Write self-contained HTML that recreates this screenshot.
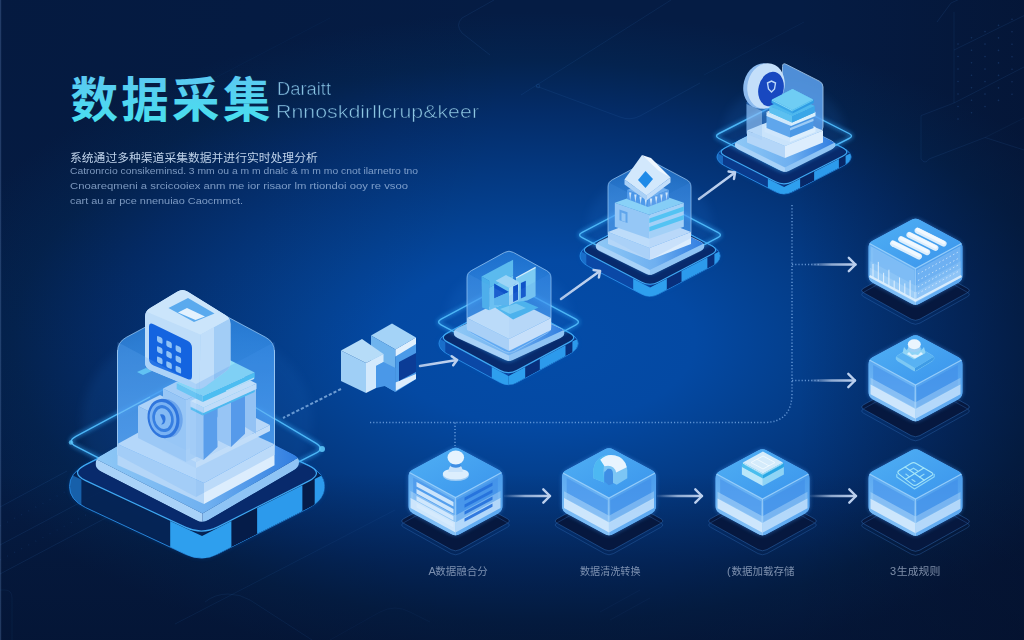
<!DOCTYPE html>
<html><head><meta charset="utf-8"><title>数据采集</title>
<style>html,body{margin:0;padding:0;background:#051C44;overflow:hidden;font-family:"Liberation Sans",sans-serif}svg{display:block}</style>
</head><body><svg width="1024" height="640" viewBox="0 0 1024 640" font-family="Liberation Sans, sans-serif"><defs>
<radialGradient id="bg1" cx="540" cy="342" r="620" gradientUnits="userSpaceOnUse" gradientTransform="translate(540 342) scale(1 0.532) translate(-540 -342)">
<stop offset="0" stop-color="#044CA8"/><stop offset="0.25" stop-color="#0449A3"/><stop offset="0.4" stop-color="#04408F"/><stop offset="0.55" stop-color="#04367C"/><stop offset="0.7" stop-color="#042C68"/><stop offset="0.85" stop-color="#04234F"/><stop offset="1" stop-color="#051C44"/>
</radialGradient>
<linearGradient id="bgB" x1="0" y1="0" x2="0" y2="1"><stop offset="0.74" stop-color="#040E26" stop-opacity="0"/><stop offset="0.88" stop-color="#040E26" stop-opacity="0.3"/><stop offset="1" stop-color="#040E26" stop-opacity="0.45"/></linearGradient>
<radialGradient id="bgTL" cx="0" cy="0" r="520" gradientUnits="userSpaceOnUse"><stop offset="0" stop-color="#050F2A" stop-opacity="0.15"/><stop offset="1" stop-color="#050F2A" stop-opacity="0"/></radialGradient>
<linearGradient id="bgR" x1="0" y1="0" x2="1" y2="0"><stop offset="0.78" stop-color="#040E26" stop-opacity="0"/><stop offset="1" stop-color="#040E26" stop-opacity="0.4"/></linearGradient>
<linearGradient id="ttl" x1="0" y1="0" x2="0" y2="1"><stop offset="0" stop-color="#5CC8F2"/><stop offset="1" stop-color="#46E2EE"/></linearGradient>
<linearGradient id="gTop" x1="0" y1="0" x2="1" y2="1"><stop offset="0" stop-color="#50B0F4"/><stop offset="1" stop-color="#3A94EC"/></linearGradient>
<linearGradient id="gL" x1="0" y1="0" x2="0" y2="1"><stop offset="0" stop-color="#5CAAF1"/><stop offset="1" stop-color="#86C2F7"/></linearGradient>
<linearGradient id="gR" x1="0" y1="0" x2="0" y2="1"><stop offset="0" stop-color="#4A9CEC"/><stop offset="1" stop-color="#68B0F3"/></linearGradient>
<linearGradient id="gPT" x1="0" y1="0" x2="1" y2="0"><stop offset="0" stop-color="#8EC8F6"/><stop offset="0.55" stop-color="#6FB0F0"/><stop offset="1" stop-color="#2F7CE0"/></linearGradient>
<filter id="glow" x="-20%" y="-20%" width="140%" height="140%"><feGaussianBlur stdDeviation="2.2"/></filter>
<filter id="glow4" x="-30%" y="-30%" width="160%" height="160%"><feGaussianBlur stdDeviation="5"/></filter>
<filter id="b1"><feGaussianBlur stdDeviation="0.6"/></filter>
<linearGradient id="gg649" x1="0" y1="0" x2="0" y2="1"><stop offset="0" stop-color="#3090F0" stop-opacity="0.56"/><stop offset="1" stop-color="#5AA6F4" stop-opacity="0.74"/></linearGradient><linearGradient id="gg509" x1="0" y1="0" x2="0" y2="1"><stop offset="0" stop-color="#3090F0" stop-opacity="0.56"/><stop offset="1" stop-color="#5AA6F4" stop-opacity="0.74"/></linearGradient><linearGradient id="gg196" x1="0" y1="0" x2="0" y2="1"><stop offset="0" stop-color="#3090F0" stop-opacity="0.70"/><stop offset="1" stop-color="#5AA6F4" stop-opacity="0.94"/></linearGradient><linearGradient id="ar812_264" gradientUnits="userSpaceOnUse" x1="812" y1="264.5" x2="855.5" y2="264.5"><stop offset="0" stop-color="#BCD0EE" stop-opacity="0.1"/><stop offset="0.45" stop-color="#BCD0EE" stop-opacity="0.75"/><stop offset="1" stop-color="#BCD0EE"/></linearGradient><linearGradient id="ar812_380" gradientUnits="userSpaceOnUse" x1="812" y1="380.5" x2="855" y2="380.5"><stop offset="0" stop-color="#BCD0EE" stop-opacity="0.1"/><stop offset="0.45" stop-color="#BCD0EE" stop-opacity="0.75"/><stop offset="1" stop-color="#BCD0EE"/></linearGradient><linearGradient id="ar505_496" gradientUnits="userSpaceOnUse" x1="505" y1="496" x2="550" y2="496"><stop offset="0" stop-color="#BCD0EE" stop-opacity="0.1"/><stop offset="0.45" stop-color="#BCD0EE" stop-opacity="0.75"/><stop offset="1" stop-color="#BCD0EE"/></linearGradient><linearGradient id="ar658_496" gradientUnits="userSpaceOnUse" x1="658" y1="496" x2="702" y2="496"><stop offset="0" stop-color="#BCD0EE" stop-opacity="0.1"/><stop offset="0.45" stop-color="#BCD0EE" stop-opacity="0.75"/><stop offset="1" stop-color="#BCD0EE"/></linearGradient><linearGradient id="ar811_496" gradientUnits="userSpaceOnUse" x1="811" y1="496" x2="856" y2="496"><stop offset="0" stop-color="#BCD0EE" stop-opacity="0.1"/><stop offset="0.45" stop-color="#BCD0EE" stop-opacity="0.75"/><stop offset="1" stop-color="#BCD0EE"/></linearGradient><linearGradient id="ar420_366" gradientUnits="userSpaceOnUse" x1="420" y1="366" x2="457" y2="360"><stop offset="0" stop-color="#BCD0EE" stop-opacity="0.9"/><stop offset="0.45" stop-color="#BCD0EE" stop-opacity="1"/><stop offset="1" stop-color="#BCD0EE"/></linearGradient><linearGradient id="ar561_299" gradientUnits="userSpaceOnUse" x1="561" y1="299" x2="600" y2="271"><stop offset="0" stop-color="#BCD0EE" stop-opacity="0.9"/><stop offset="0.45" stop-color="#BCD0EE" stop-opacity="1"/><stop offset="1" stop-color="#BCD0EE"/></linearGradient><linearGradient id="ar699_199" gradientUnits="userSpaceOnUse" x1="699" y1="199" x2="735" y2="172.5"><stop offset="0" stop-color="#BCD0EE" stop-opacity="0.9"/><stop offset="0.45" stop-color="#BCD0EE" stop-opacity="1"/><stop offset="1" stop-color="#BCD0EE"/></linearGradient></defs><rect width="1024" height="640" fill="#051C44"/>
<rect width="1024" height="640" fill="url(#bg1)"/>
<rect width="1024" height="640" fill="url(#bgR)"/>
<rect width="1024" height="640" fill="url(#bgB)"/>
<rect width="1024" height="640" fill="url(#bgTL)"/>
<path d="M494,0 L462,18 Q455,25 462,33 L490,55" fill="none" stroke="#3C7DD0" stroke-opacity="0.16" stroke-width="0.8" />
<path d="M671,0 L521,95 M536,86 L620,117 Q630,121 640,116 L700,83" fill="none" stroke="#3C7DD0" stroke-opacity="0.15" stroke-width="0.8" />
<circle cx="538" cy="86" r="1.8" fill="none" stroke="#3C7DD0" stroke-opacity="0.2" stroke-width="0.8"/>
<path d="M704,75 L804,22" fill="none" stroke="#3C7DD0" stroke-opacity="0.1" stroke-width="0.8" />
<path d="M215,78 L330,18" fill="none" stroke="#3C7DD0" stroke-opacity="0.07" stroke-width="0.8" />
<path d="M954,50 L1024,15.6 M954,103 L1024,67 M937,22 L951,3 L1024,-30" fill="none" stroke="#3C7DD0" stroke-opacity="0.16" stroke-width="0.8" />
<path d="M954,12 L954,103 L921,115.6 L921,159 Q925,165 929,159 L985,137.5 L1024,150" fill="none" stroke="#3C7DD0" stroke-opacity="0.14" stroke-width="0.8" />
<path d="M985,137.5 L1024,118" fill="none" stroke="#3C7DD0" stroke-opacity="0.1" stroke-width="0.8" />
<circle cx="958.0" cy="44.0" r="0.8" fill="#4A8AE0" opacity="0.22"/>
<circle cx="971.5" cy="37.8" r="0.8" fill="#4A8AE0" opacity="0.22"/>
<circle cx="985.0" cy="31.6" r="0.8" fill="#4A8AE0" opacity="0.22"/>
<circle cx="998.5" cy="25.4" r="0.8" fill="#4A8AE0" opacity="0.22"/>
<circle cx="1012.0" cy="19.2" r="0.8" fill="#4A8AE0" opacity="0.22"/>
<circle cx="958.0" cy="56.5" r="0.8" fill="#4A8AE0" opacity="0.22"/>
<circle cx="971.5" cy="50.3" r="0.8" fill="#4A8AE0" opacity="0.22"/>
<circle cx="985.0" cy="44.1" r="0.8" fill="#4A8AE0" opacity="0.22"/>
<circle cx="998.5" cy="37.9" r="0.8" fill="#4A8AE0" opacity="0.22"/>
<circle cx="1012.0" cy="31.7" r="0.8" fill="#4A8AE0" opacity="0.22"/>
<circle cx="958.0" cy="69.0" r="0.8" fill="#4A8AE0" opacity="0.22"/>
<circle cx="971.5" cy="62.8" r="0.8" fill="#4A8AE0" opacity="0.22"/>
<circle cx="985.0" cy="56.6" r="0.8" fill="#4A8AE0" opacity="0.22"/>
<circle cx="998.5" cy="50.4" r="0.8" fill="#4A8AE0" opacity="0.22"/>
<circle cx="1012.0" cy="44.2" r="0.8" fill="#4A8AE0" opacity="0.22"/>
<circle cx="958.0" cy="81.5" r="0.8" fill="#4A8AE0" opacity="0.22"/>
<circle cx="971.5" cy="75.3" r="0.8" fill="#4A8AE0" opacity="0.22"/>
<circle cx="985.0" cy="69.1" r="0.8" fill="#4A8AE0" opacity="0.22"/>
<circle cx="998.5" cy="62.9" r="0.8" fill="#4A8AE0" opacity="0.22"/>
<circle cx="1012.0" cy="56.7" r="0.8" fill="#4A8AE0" opacity="0.22"/>
<circle cx="958.0" cy="94.0" r="0.8" fill="#4A8AE0" opacity="0.22"/>
<circle cx="971.5" cy="87.8" r="0.8" fill="#4A8AE0" opacity="0.22"/>
<circle cx="985.0" cy="81.6" r="0.8" fill="#4A8AE0" opacity="0.22"/>
<circle cx="998.5" cy="75.4" r="0.8" fill="#4A8AE0" opacity="0.22"/>
<circle cx="1012.0" cy="69.2" r="0.8" fill="#4A8AE0" opacity="0.22"/>
<circle cx="958.0" cy="106.5" r="0.8" fill="#4A8AE0" opacity="0.22"/>
<circle cx="971.5" cy="100.3" r="0.8" fill="#4A8AE0" opacity="0.22"/>
<circle cx="985.0" cy="94.1" r="0.8" fill="#4A8AE0" opacity="0.22"/>
<circle cx="998.5" cy="87.9" r="0.8" fill="#4A8AE0" opacity="0.22"/>
<circle cx="1012.0" cy="81.7" r="0.8" fill="#4A8AE0" opacity="0.22"/>
<circle cx="958.0" cy="119.0" r="0.8" fill="#4A8AE0" opacity="0.22"/>
<circle cx="971.5" cy="112.8" r="0.8" fill="#4A8AE0" opacity="0.22"/>
<circle cx="985.0" cy="106.6" r="0.8" fill="#4A8AE0" opacity="0.22"/>
<circle cx="998.5" cy="100.4" r="0.8" fill="#4A8AE0" opacity="0.22"/>
<circle cx="1012.0" cy="94.2" r="0.8" fill="#4A8AE0" opacity="0.22"/>
<path d="M0,507 L67,471 M0,545 L100,492 M0,574 L134,503" fill="none" stroke="#3C7DD0" stroke-opacity="0.16" stroke-width="0.8" />
<path d="M0,526 L95,476 M0,560 L118,498" fill="none" stroke="#3C7DD0" stroke-opacity="0.13" stroke-width="1.3" stroke-dasharray="1 7"/>
<path d="M175,624 L320,549" fill="none" stroke="#3C7DD0" stroke-opacity="0.13" stroke-width="0.8" />
<path d="M205,602 Q215,594 228,594 Q240,594 250,600 L312,640" fill="none" stroke="#3C7DD0" stroke-opacity="0.13" stroke-width="0.8" />
<path d="M320,549 L395,510" fill="none" stroke="#3C7DD0" stroke-opacity="0.1" stroke-width="0.8" />
<path d="M330,640 L380,612 Q395,604 410,612 L430,622" fill="none" stroke="#3C7DD0" stroke-opacity="0.08" stroke-width="0.8" />
<path d="M0,590 L5,590 Q12,590 12,598 L12,640" fill="none" stroke="#3C7DD0" stroke-opacity="0.1" stroke-width="0.8" />
<path d="M600,612 L640,590 M610,620 L650,598" fill="none" stroke="#3C7DD0" stroke-opacity="0.08" stroke-width="0.8" />
<rect x="0" y="0" width="1.2" height="640" fill="#5A7CB0" opacity="0.35"/>
<g fill="none" stroke="#86B6F0" stroke-width="1.5" stroke-dasharray="1.2 2" opacity="0.7">
<path d="M792,205 L792,393 Q792,422.5 764,422.5 L368,422.5"/>
<path d="M455,422.5 L455,446"/>
<path d="M792,264.5 L820,264.5 M792,380.5 L820,380.5"/>
</g>
<path d="M341,389 L283,418" fill="none" stroke="#9CC4F0" stroke-width="2" stroke-dasharray="3.2 2" opacity="0.7"/>
<ellipse cx="784" cy="130" rx="60" ry="45" fill="#2F86EA" opacity="0.105" filter="url(#glow4)"/>
<path d="M717.0,157.0Q717.0,152.0 725.4,147.8L775.6,122.2Q784.0,118.0 792.4,122.2L842.6,147.8Q851.0,152.0 851.0,157.0L851.0,157.0Q851.0,162.0 842.6,166.2L792.4,191.8Q784.0,196.0 775.6,191.8L725.4,166.2Q717.0,162.0 717.0,157.0Z" fill="#1060C8" filter="url(#glow)" opacity="0.35"/>
<path d="M717.0,157.0Q717.0,152.0 725.4,147.8L775.6,122.2Q784.0,118.0 792.4,122.2L842.6,147.8Q851.0,152.0 851.0,157.0L851.0,157.0Q851.0,162.0 842.6,166.2L792.4,191.8Q784.0,196.0 775.6,191.8L725.4,166.2Q717.0,162.0 717.0,157.0Z" fill="#0A3A8C" fill-opacity="0.85" stroke="#2B8FE6" stroke-width="0.9"/>
<clipPath id="pc784"><path d="M717.0,157.0Q717.0,152.0 725.4,147.8L775.6,122.2Q784.0,118.0 792.4,122.2L842.6,147.8Q851.0,152.0 851.0,157.0L851.0,157.0Q851.0,162.0 842.6,166.2L792.4,191.8Q784.0,196.0 775.6,191.8L725.4,166.2Q717.0,162.0 717.0,157.0Z"/></clipPath><g clip-path="url(#pc784)">
<polygon points="784.0,186.0 851.0,152.0 851.0,162.0 784.0,196.0" fill="#072560" opacity="0.85"/>
<polygon points="717.0,153.0 723.0,156.1 723.0,165.1 717.0,162.0" fill="#2388E2" opacity="0.6"/>
<polygon points="767.9,178.8 784.0,187.0 784.0,196.0 767.9,187.8" fill="#2E9FEE" opacity="1"/>
<polygon points="784.0,187.0 800.1,178.8 800.1,187.8 784.0,196.0" fill="#2E9FEE" opacity="1"/>
<polygon points="814.1,171.7 838.9,159.1 838.9,168.1 814.1,180.7" fill="#2C9AEC" opacity="1"/>
<polygon points="845.6,155.7 851.0,153.0 851.0,162.0 845.6,164.7" fill="#2C9AEC" opacity="1"/>
</g>
<path d="M775.6,122.2Q784.0,118.0 792.4,122.2L842.6,147.8Q851.0,152.0 842.6,156.2L792.4,181.8Q784.0,186.0 775.6,181.8L725.4,156.2Q717.0,152.0 725.4,147.8Z" fill="#082A6C" stroke="#3FA8F2" stroke-width="1.2"/>
<path d="M779.0,103.0Q784.0,100.5 789.0,103.0L849.0,133.5Q854.0,136.0 849.0,138.5L789.0,169.0Q784.0,171.5 779.0,169.0L719.0,138.5Q714.0,136.0 719.0,133.5Z" fill="none" stroke="#2FA0F2" stroke-width="3" filter="url(#glow)" opacity="0.7"/>
<path d="M779.0,103.0Q784.0,100.5 789.0,103.0L849.0,133.5Q854.0,136.0 849.0,138.5L789.0,169.0Q784.0,171.5 779.0,169.0L719.0,138.5Q714.0,136.0 719.0,133.5Z" fill="none" stroke="#4DB6F6" stroke-width="1.4"/>
<g opacity="1" >
<path d="M781.4,119.3Q785.0,117.5 788.6,119.3L831.4,140.7Q835.0,142.5 835.0,145.0L835.0,145.0Q835.0,147.5 831.4,149.3L788.6,170.7Q785.0,172.5 781.4,170.7L738.6,149.3Q735.0,147.5 735.0,145.0L735.0,145.0Q735.0,142.5 738.6,140.7Z" fill="#A9D2F8" stroke="#A9D2F8" stroke-width="0.5"/>
<clipPath id="ib7850_1425"><path d="M781.4,119.3Q785.0,117.5 788.6,119.3L831.4,140.7Q835.0,142.5 835.0,145.0L835.0,145.0Q835.0,147.5 831.4,149.3L788.6,170.7Q785.0,172.5 781.4,170.7L738.6,149.3Q735.0,147.5 735.0,145.0L735.0,145.0Q735.0,142.5 738.6,140.7Z"/></clipPath><g clip-path="url(#ib7850_1425)">
<polygon points="735.0,142.5 785.0,167.5 785.0,172.5 735.0,147.5" fill="#A9D2F8" />
<polygon points="785.0,167.5 835.0,142.5 835.0,147.5 785.0,172.5" fill="#8FC4F5" />
<polygon points="785.0,117.5 835.0,142.5 785.0,167.5 735.0,142.5" fill="url(#gPT)" />
</g>
</g>
<path d="M782.5,66.5Q782.5,62.5 786.1,64.3L819.4,81.2Q823.0,83.0 823.0,87.0L823.0,127.0Q823.0,131.0 819.3,132.5L788.7,144.5Q785.0,146.0 784.5,142.0L783.0,129.0Q782.5,125.0 782.5,121.0Z" fill="#5CA2F0" opacity="0.85" stroke="#B5DAFC" stroke-width="0.9"/>
<polygon points="746.5,102.0 782.5,84.0 782.5,128.0 746.5,133.0" fill="#4494EE" opacity="0.5"/>
<g opacity="1" >
<polygon points="747.0,130.5 785.0,146.0 785.0,158.0 747.0,142.5" fill="#B4D6F8" />
<polygon points="785.0,146.0 823.0,130.5 823.0,142.5 785.0,158.0" fill="#DCEDFD" />
<polygon points="785.0,115.0 823.0,130.5 785.0,146.0 747.0,130.5" fill="#C9E3FB" />
</g>
<g opacity="1" >
<polygon points="764.5,127.0 790.0,137.0 790.0,142.0 764.5,132.0" fill="#CFE6FC" />
<polygon points="790.0,137.0 815.5,127.0 815.5,132.0 790.0,142.0" fill="#DCEEFD" />
<polygon points="790.0,117.0 815.5,127.0 790.0,137.0 764.5,127.0" fill="#E2F1FD" />
</g>
<g opacity="1" >
<polygon points="766.5,115.0 790.0,124.5 790.0,137.5 766.5,128.0" fill="#5FA6EC" />
<polygon points="790.0,124.5 813.5,115.0 813.5,128.0 790.0,137.5" fill="#4A98E6" />
<polygon points="790.0,105.5 813.5,115.0 790.0,124.5 766.5,115.0" fill="#BFE0FA" />
</g>
<polygon points="790.0,128.0 813.5,118.5 813.5,121.0 790.0,130.5" fill="#9CCBF5" />
<g opacity="1" >
<polygon points="766.5,112.0 791.0,122.0 791.0,126.0 766.5,116.0" fill="#CFE8FB" />
<polygon points="791.0,122.0 815.5,112.0 815.5,116.0 791.0,126.0" fill="#D8EEFC" />
<polygon points="791.0,102.0 815.5,112.0 791.0,122.0 766.5,112.0" fill="#E6F3FE" />
</g>
<g opacity="1" >
<polygon points="769.5,106.0 792.0,116.0 792.0,122.5 769.5,112.5" fill="#5CC0F0" />
<polygon points="792.0,116.0 814.5,106.0 814.5,112.5 792.0,122.5" fill="#3AA6E8" />
<polygon points="792.0,96.0 814.5,106.0 792.0,116.0 769.5,106.0" fill="#4DB8EE" />
</g>
<g opacity="1" >
<polygon points="771.5,100.0 792.5,110.5 792.5,113.5 771.5,103.0" fill="#3AA6E8" />
<polygon points="792.5,110.5 813.5,100.0 813.5,103.0 792.5,113.5" fill="#2E9CE4" />
<polygon points="792.5,89.5 813.5,100.0 792.5,110.5 771.5,100.0" fill="#2E9CE4" />
</g>
<g opacity="1" >
<polygon points="772.0,99.5 792.5,110.0 792.5,111.2 772.0,100.7" fill="#7FD4F6" />
<polygon points="792.5,110.0 813.0,99.5 813.0,100.7 792.5,111.2" fill="#5FC6F2" />
<polygon points="792.5,89.0 813.0,99.5 792.5,110.0 772.0,99.5" fill="#6FCDF4" />
</g>
<ellipse cx="762" cy="86" rx="18.5" ry="23" fill="#8DBBEF" transform="rotate(14 762 86)"/>
<ellipse cx="766" cy="86" rx="18.5" ry="23" fill="#C4DFFA" transform="rotate(14 766 86)"/>
<ellipse cx="771" cy="89" rx="12.5" ry="17.5" fill="#1848C0" transform="rotate(14 771 89)"/>
<path d="M767.5,83 l4,-2 l4,2 l-1,6 l-3,3 l-3,-3 z" fill="none" stroke="#BBD8FA" stroke-width="1.4"/>
<polygon points="746.5,104.0 762.0,111.0 762.0,140.0 746.5,134.0" fill="#A8D0F8" opacity="0.5"/>
<g opacity="1" >
<polygon points="769.5,106.0 792.0,116.0 792.0,122.5 769.5,112.5" fill="#5CC0F0" />
<polygon points="792.0,116.0 814.5,106.0 814.5,112.5 792.0,122.5" fill="#3AA6E8" />
<polygon points="792.0,96.0 814.5,106.0 792.0,116.0 769.5,106.0" fill="#4DB8EE" />
</g>
<g opacity="1" >
<polygon points="771.5,100.0 792.5,110.5 792.5,113.5 771.5,103.0" fill="#3AA6E8" />
<polygon points="792.5,110.5 813.5,100.0 813.5,103.0 792.5,113.5" fill="#2E9CE4" />
<polygon points="792.5,89.5 813.5,100.0 792.5,110.5 771.5,100.0" fill="#2E9CE4" />
</g>
<g opacity="1" >
<polygon points="772.0,99.5 792.5,110.0 792.5,111.2 772.0,100.7" fill="#7FD4F6" />
<polygon points="792.5,110.0 813.0,99.5 813.0,100.7 792.5,111.2" fill="#5FC6F2" />
<polygon points="792.5,89.0 813.0,99.5 792.5,110.0 772.0,99.5" fill="#6FCDF4" />
</g>
<ellipse cx="650" cy="225" rx="62" ry="50" fill="#2F86EA" opacity="0.105" filter="url(#glow4)"/>
<path d="M580.0,256.0Q580.0,250.0 588.7,245.5L641.3,218.0Q650.0,213.5 658.7,218.0L711.3,245.5Q720.0,250.0 720.0,256.0L720.0,256.0Q720.0,262.0 711.3,266.5L658.7,294.0Q650.0,298.5 641.3,294.0L588.7,266.5Q580.0,262.0 580.0,256.0Z" fill="#1060C8" filter="url(#glow)" opacity="0.35"/>
<path d="M580.0,256.0Q580.0,250.0 588.7,245.5L641.3,218.0Q650.0,213.5 658.7,218.0L711.3,245.5Q720.0,250.0 720.0,256.0L720.0,256.0Q720.0,262.0 711.3,266.5L658.7,294.0Q650.0,298.5 641.3,294.0L588.7,266.5Q580.0,262.0 580.0,256.0Z" fill="#0C46A4" fill-opacity="0.85" stroke="#2B8FE6" stroke-width="0.9"/>
<clipPath id="pc650"><path d="M580.0,256.0Q580.0,250.0 588.7,245.5L641.3,218.0Q650.0,213.5 658.7,218.0L711.3,245.5Q720.0,250.0 720.0,256.0L720.0,256.0Q720.0,262.0 711.3,266.5L658.7,294.0Q650.0,298.5 641.3,294.0L588.7,266.5Q580.0,262.0 580.0,256.0Z"/></clipPath><g clip-path="url(#pc650)">
<polygon points="650.0,286.5 720.0,250.0 720.0,262.0 650.0,298.5" fill="#082C74" opacity="0.85"/>
<polygon points="580.0,251.0 586.3,254.3 586.3,265.3 580.0,262.0" fill="#2388E2" opacity="0.6"/>
<polygon points="633.2,278.7 650.0,287.5 650.0,298.5 633.2,289.7" fill="#2E9FEE" opacity="1"/>
<polygon points="650.0,287.5 666.8,278.7 666.8,289.7 650.0,298.5" fill="#2E9FEE" opacity="1"/>
<polygon points="681.5,271.1 707.4,257.6 707.4,268.6 681.5,282.1" fill="#2C9AEC" opacity="1"/>
<polygon points="714.4,253.9 720.0,251.0 720.0,262.0 714.4,264.9" fill="#2C9AEC" opacity="1"/>
</g>
<path d="M641.3,218.0Q650.0,213.5 658.7,218.0L711.3,245.5Q720.0,250.0 711.3,254.5L658.7,282.0Q650.0,286.5 641.3,282.0L588.7,254.5Q580.0,250.0 588.7,245.5Z" fill="#082A6C" stroke="#3FA8F2" stroke-width="1.2"/>
<path d="M644.8,199.7Q650.0,197.0 655.2,199.7L717.8,232.3Q723.0,235.0 717.8,237.7L655.2,270.3Q650.0,273.0 644.8,270.3L582.2,237.7Q577.0,235.0 582.2,232.3Z" fill="none" stroke="#2FA0F2" stroke-width="3" filter="url(#glow)" opacity="0.7"/>
<path d="M644.8,199.7Q650.0,197.0 655.2,199.7L717.8,232.3Q723.0,235.0 717.8,237.7L655.2,270.3Q650.0,273.0 644.8,270.3L582.2,237.7Q577.0,235.0 582.2,232.3Z" fill="none" stroke="#4DB6F6" stroke-width="1.4"/>
<g opacity="1" >
<path d="M646.4,218.8Q650.0,217.0 653.6,218.8L700.4,241.7Q704.0,243.5 704.0,246.2L704.0,246.2Q704.0,249.0 700.4,250.8L653.6,273.7Q650.0,275.5 646.4,273.7L599.6,250.8Q596.0,249.0 596.0,246.2L596.0,246.2Q596.0,243.5 599.6,241.7Z" fill="#A9D2F8" stroke="#A9D2F8" stroke-width="0.5"/>
<clipPath id="ib6500_2435"><path d="M646.4,218.8Q650.0,217.0 653.6,218.8L700.4,241.7Q704.0,243.5 704.0,246.2L704.0,246.2Q704.0,249.0 700.4,250.8L653.6,273.7Q650.0,275.5 646.4,273.7L599.6,250.8Q596.0,249.0 596.0,246.2L596.0,246.2Q596.0,243.5 599.6,241.7Z"/></clipPath><g clip-path="url(#ib6500_2435)">
<polygon points="596.0,243.5 650.0,270.0 650.0,275.5 596.0,249.0" fill="#A9D2F8" />
<polygon points="650.0,270.0 704.0,243.5 704.0,249.0 650.0,275.5" fill="#8FC4F5" />
<polygon points="650.0,217.0 704.0,243.5 650.0,270.0 596.0,243.5" fill="url(#gPT)" />
</g>
</g>
<path d="M608.0,187.0Q608.0,182.0 612.4,179.7L645.1,162.3Q649.5,160.0 653.9,162.3L686.6,179.7Q691.0,182.0 691.0,187.0L691.0,233.0Q691.0,238.0 686.6,240.3L653.9,257.7Q649.5,260.0 645.1,257.7L612.4,240.3Q608.0,238.0 608.0,233.0Z" fill="url(#gg649)" />
<path d="M608.0,187.0Q608.0,182.0 612.4,179.7L645.1,162.3Q649.5,160.0 653.9,162.3L686.6,179.7Q691.0,182.0 691.0,187.0L691.0,233.0Q691.0,238.0 686.6,240.3L653.9,257.7Q649.5,260.0 645.1,257.7L612.4,240.3Q608.0,238.0 608.0,233.0Z" fill="none" stroke="#A9D4FB" stroke-width="0.9" opacity="0.75"/>
<g opacity="1" >
<polygon points="608.0,232.0 649.5,248.0 649.5,260.0 608.0,244.0" fill="#B4D6F8" />
<polygon points="649.5,248.0 691.0,232.0 691.0,244.0 649.5,260.0" fill="#DCEDFD" />
<polygon points="649.5,216.0 691.0,232.0 649.5,248.0 608.0,232.0" fill="#C9E3FB" />
</g>
<g opacity="1" >
<polygon points="614.8,202.7 649.3,214.7 649.3,238.7 614.8,226.7" fill="#9CCBF6" />
<polygon points="649.3,214.7 683.8,202.7 683.8,226.7 649.3,238.7" fill="#B0DAF9" />
<polygon points="649.3,190.7 683.8,202.7 649.3,214.7 614.8,202.7" fill="#8ED6F7" />
</g>
<polygon points="649.3,218.5 683.8,206.5 683.8,211.0 649.3,223.0" fill="#55CBF4" />
<polygon points="649.3,227.0 683.8,215.0 683.8,219.5 649.3,231.5" fill="#55CBF4" />
<polygon points="619.5,209.5 627.5,212.3 627.5,223.0 619.5,220.2" fill="#5FA4EA" />
<polygon points="621.5,212.5 625.5,214.0 625.5,222.0 621.5,220.5" fill="#9CCBF6" />
<g opacity="1" >
<polygon points="627.0,190.0 648.0,198.0 648.0,207.0 627.0,199.0" fill="#4A96E8" />
<polygon points="648.0,198.0 669.0,190.0 669.0,199.0 648.0,207.0" fill="#5A9EEA" />
<polygon points="648.0,182.0 669.0,190.0 648.0,198.0 627.0,190.0" fill="#6FAEF0" />
</g>
<path d="M629.0,192.5 l1.2,8 l1.2,-8z" fill="#CFE6FB"/>
<path d="M634.2,194.5 l1.2,8 l1.2,-8z" fill="#CFE6FB"/>
<path d="M639.4,196.5 l1.2,8 l1.2,-8z" fill="#CFE6FB"/>
<path d="M644.6,198.5 l1.2,8 l1.2,-8z" fill="#CFE6FB"/>
<path d="M649.8,198.5 l1.2,8 l1.2,-8z" fill="#CFE6FB"/>
<path d="M655.0,196.5 l1.2,8 l1.2,-8z" fill="#CFE6FB"/>
<path d="M660.2,194.5 l1.2,8 l1.2,-8z" fill="#CFE6FB"/>
<path d="M665.4,192.5 l1.2,8 l1.2,-8z" fill="#CFE6FB"/>
<polygon points="642.0,155.0 624.5,179.5 646.5,195.5 670.5,177.5" fill="#D2E8FC" />
<polygon points="624.5,179.5 646.5,195.5 646.5,200.5 624.5,184.5" fill="#A9D0F6" />
<polygon points="646.5,195.5 670.5,177.5 670.5,182.5 646.5,200.5" fill="#C2DEFA" />
<polygon points="642.0,155.0 651.0,158.0 670.5,177.5 659.0,171.0" fill="#EEF7FF" />
<polygon points="645.5,171.0 653.0,179.0 645.5,188.0 638.0,180.0" fill="#1E8AE8" />
<polygon points="608.0,182.0 649.5,204.0 649.5,260.0 608.0,238.0" fill="#6AAEF4" opacity="0.13"/>
<polygon points="649.5,204.0 691.0,182.0 691.0,238.0 649.5,260.0" fill="#4A94EC" opacity="0.13"/>
<ellipse cx="509" cy="315" rx="62" ry="48" fill="#2F86EA" opacity="0.105" filter="url(#glow4)"/>
<path d="M439.0,343.5Q439.0,337.5 447.6,332.9L499.9,304.6Q508.5,300.0 517.1,304.6L569.4,332.9Q578.0,337.5 578.0,343.5L578.0,343.5Q578.0,349.5 569.4,354.1L517.1,382.4Q508.5,387.0 499.9,382.4L447.6,354.1Q439.0,349.5 439.0,343.5Z" fill="#1060C8" filter="url(#glow)" opacity="0.35"/>
<path d="M439.0,343.5Q439.0,337.5 447.6,332.9L499.9,304.6Q508.5,300.0 517.1,304.6L569.4,332.9Q578.0,337.5 578.0,343.5L578.0,343.5Q578.0,349.5 569.4,354.1L517.1,382.4Q508.5,387.0 499.9,382.4L447.6,354.1Q439.0,349.5 439.0,343.5Z" fill="#0C46A4" fill-opacity="0.85" stroke="#2B8FE6" stroke-width="0.9"/>
<clipPath id="pc508"><path d="M439.0,343.5Q439.0,337.5 447.6,332.9L499.9,304.6Q508.5,300.0 517.1,304.6L569.4,332.9Q578.0,337.5 578.0,343.5L578.0,343.5Q578.0,349.5 569.4,354.1L517.1,382.4Q508.5,387.0 499.9,382.4L447.6,354.1Q439.0,349.5 439.0,343.5Z"/></clipPath><g clip-path="url(#pc508)">
<polygon points="508.5,375.0 578.0,337.5 578.0,349.5 508.5,387.0" fill="#082C74" opacity="0.85"/>
<polygon points="439.0,338.5 445.3,341.9 445.3,352.9 439.0,349.5" fill="#2388E2" opacity="0.6"/>
<polygon points="491.8,367.0 508.5,376.0 508.5,387.0 491.8,378.0" fill="#2E9FEE" opacity="1"/>
<polygon points="508.5,376.0 525.2,367.0 525.2,378.0 508.5,387.0" fill="#2E9FEE" opacity="1"/>
<polygon points="539.8,359.1 565.5,345.2 565.5,356.2 539.8,370.1" fill="#2C9AEC" opacity="1"/>
<polygon points="572.4,341.5 578.0,338.5 578.0,349.5 572.4,352.5" fill="#2C9AEC" opacity="1"/>
</g>
<path d="M499.9,304.6Q508.5,300.0 517.1,304.6L569.4,332.9Q578.0,337.5 569.4,342.1L517.1,370.4Q508.5,375.0 499.9,370.4L447.6,342.1Q439.0,337.5 447.6,332.9Z" fill="#082A6C" stroke="#3FA8F2" stroke-width="1.2"/>
<path d="M503.4,285.8Q508.5,283.0 513.6,285.8L575.9,319.2Q581.0,322.0 575.9,324.8L513.6,358.2Q508.5,361.0 503.4,358.2L441.1,324.8Q436.0,322.0 441.1,319.2Z" fill="none" stroke="#2FA0F2" stroke-width="3" filter="url(#glow)" opacity="0.7"/>
<path d="M503.4,285.8Q508.5,283.0 513.6,285.8L575.9,319.2Q581.0,322.0 575.9,324.8L513.6,358.2Q508.5,361.0 503.4,358.2L441.1,324.8Q436.0,322.0 441.1,319.2Z" fill="none" stroke="#4DB6F6" stroke-width="1.4"/>
<g opacity="1" >
<path d="M505.4,306.2Q509.0,304.5 512.6,306.2L560.4,328.3Q564.0,330.0 564.0,333.0L564.0,333.0Q564.0,336.0 560.4,337.7L512.6,359.8Q509.0,361.5 505.4,359.8L457.6,337.7Q454.0,336.0 454.0,333.0L454.0,333.0Q454.0,330.0 457.6,328.3Z" fill="#A9D2F8" stroke="#A9D2F8" stroke-width="0.5"/>
<clipPath id="ib5090_3300"><path d="M505.4,306.2Q509.0,304.5 512.6,306.2L560.4,328.3Q564.0,330.0 564.0,333.0L564.0,333.0Q564.0,336.0 560.4,337.7L512.6,359.8Q509.0,361.5 505.4,359.8L457.6,337.7Q454.0,336.0 454.0,333.0L454.0,333.0Q454.0,330.0 457.6,328.3Z"/></clipPath><g clip-path="url(#ib5090_3300)">
<polygon points="454.0,330.0 509.0,355.5 509.0,361.5 454.0,336.0" fill="#A9D2F8" />
<polygon points="509.0,355.5 564.0,330.0 564.0,336.0 509.0,361.5" fill="#8FC4F5" />
<polygon points="509.0,304.5 564.0,330.0 509.0,355.5 454.0,330.0" fill="url(#gPT)" />
</g>
</g>
<path d="M467.0,278.0Q467.0,273.0 471.4,270.6L504.6,252.4Q509.0,250.0 513.4,252.4L546.6,270.6Q551.0,273.0 551.0,278.0L551.0,326.0Q551.0,331.0 546.6,333.4L513.4,351.6Q509.0,354.0 504.6,351.6L471.4,333.4Q467.0,331.0 467.0,326.0Z" fill="url(#gg509)" />
<path d="M467.0,278.0Q467.0,273.0 471.4,270.6L504.6,252.4Q509.0,250.0 513.4,252.4L546.6,270.6Q551.0,273.0 551.0,278.0L551.0,326.0Q551.0,331.0 546.6,333.4L513.4,351.6Q509.0,354.0 504.6,351.6L471.4,333.4Q467.0,331.0 467.0,326.0Z" fill="none" stroke="#A9D4FB" stroke-width="0.9" opacity="0.75"/>
<g opacity="1" >
<polygon points="467.0,318.0 509.0,339.0 509.0,351.0 467.0,330.0" fill="#B4D6F8" />
<polygon points="509.0,339.0 551.0,318.0 551.0,330.0 509.0,351.0" fill="#DCEDFD" />
<polygon points="509.0,297.0 551.0,318.0 509.0,339.0 467.0,318.0" fill="#C9E3FB" />
</g>
<polygon points="494.9,307.5 518.8,299.0 538.5,307.5 513.1,319.5" fill="#4DB8EE" />
<polygon points="500.0,309.0 516.0,303.5 526.0,308.0 510.0,314.0" fill="#8FD8F6" opacity="0.8"/>
<polygon points="481.5,276.6 513.1,259.7 513.1,275.2 489.2,287.8 489.2,280.8" fill="#5BBAEE" />
<polygon points="481.5,276.6 489.2,280.8 489.2,310.3 482.2,307.5" fill="#49AEEA" />
<polygon points="489.2,287.8 513.1,275.2 513.1,300.0 489.2,310.3" fill="#6CC4F2" />
<polygon points="516.0,278.0 535.6,267.4 535.6,296.3 527.2,300.5 516.0,302.0" fill="#7CCBF3" />
<path d="M516,278 L535.6,267.4" stroke="#D4EEFC" stroke-width="1.2"/>
<polygon points="495.6,280.8 506.0,275.0 518.8,282.0 509.0,287.8" fill="#9CD4F6" />
<polygon points="494.1,283.6 509.0,292.0 494.1,298.4" fill="#0F52C8" />
<polygon points="509.0,287.8 518.8,282.0 518.8,300.0 509.0,305.5" fill="#A9DCF8" />
<polygon points="494.1,298.4 509.0,292.0 509.0,305.5 494.1,305.0" fill="#5AB6EE" />
<polygon points="513.1,286.4 518.0,284.3 518.0,299.8 513.1,301.9" fill="#0F52C8" />
<polygon points="520.9,282.9 525.8,280.8 525.8,296.3 520.9,298.4" fill="#0F52C8" />
<polygon points="467.0,273.0 509.0,296.0 509.0,354.0 467.0,331.0" fill="#6AAEF4" opacity="0.15"/>
<polygon points="509.0,296.0 551.0,273.0 551.0,331.0 509.0,354.0" fill="#4A94EC" opacity="0.15"/>
<polygon points="392.0,323.5 416.0,337.5 395.5,349.5 371.0,335.5" fill="#A4D3F7" />
<polygon points="371.0,335.5 395.5,349.5 395.5,392.0 371.0,378.0" fill="#6FB4EE" />
<polygon points="395.5,349.5 416.0,337.5 416.0,379.0 395.5,392.0" fill="#4A9AE8" />
<polygon points="395.5,349.5 416.0,337.5 416.0,344.0 395.5,356.5" fill="#E1F0FD" />
<polygon points="395.5,382.5 416.0,374.0 416.0,379.0 395.5,391.0" fill="#DCEDFC" />
<polygon points="399.0,362.0 416.0,353.0 416.0,372.0 399.0,381.0" fill="#0B3C96" />
<polygon points="362.0,339.0 383.5,354.0 366.0,363.0 341.0,350.5" fill="#B6DCF8" />
<polygon points="341.0,350.5 366.0,363.0 366.0,393.0 341.0,381.0" fill="#9FCFF6" />
<polygon points="366.0,363.0 383.5,354.0 383.5,362.0 376.0,366.0 376.0,388.0 366.0,393.0" fill="#D3E9FC" />
<polygon points="376.0,366.0 383.5,362.0 395.5,368.0 395.5,392.0 385.0,386.0 376.0,388.0" fill="#4A98E8" />
<ellipse cx="197" cy="420" rx="115" ry="95" fill="#2F86EA" opacity="0.09" filter="url(#glow4)"/>
<path d="M69.5,486.5Q69.5,473.0 85.4,464.9L176.1,419.1Q192.0,411.0 208.2,418.6L308.3,465.4Q324.5,473.0 324.5,486.5L324.5,486.5Q324.5,500.0 308.6,508.1L217.9,553.9Q202.0,562.0 185.8,554.4L85.7,507.6Q69.5,500.0 69.5,486.5Z" fill="#1060C8" filter="url(#glow)" opacity="0.35"/>
<path d="M69.5,486.5Q69.5,473.0 85.4,464.9L176.1,419.1Q192.0,411.0 208.2,418.6L308.3,465.4Q324.5,473.0 324.5,486.5L324.5,486.5Q324.5,500.0 308.6,508.1L217.9,553.9Q202.0,562.0 185.8,554.4L85.7,507.6Q69.5,500.0 69.5,486.5Z" fill="#062252" fill-opacity="0.9" stroke="#2B8FE6" stroke-width="0.9"/>
<clipPath id="pc197"><path d="M69.5,486.5Q69.5,473.0 85.4,464.9L176.1,419.1Q192.0,411.0 208.2,418.6L308.3,465.4Q324.5,473.0 324.5,486.5L324.5,486.5Q324.5,500.0 308.6,508.1L217.9,553.9Q202.0,562.0 185.8,554.4L85.7,507.6Q69.5,500.0 69.5,486.5Z"/></clipPath><g clip-path="url(#pc197)">
<polygon points="202.0,535.0 324.5,473.0 324.5,500.0 202.0,562.0" fill="#051C48" opacity="0.9"/>
<polygon points="69.5,474.0 81.4,479.6 81.4,505.6 69.5,500.0" fill="#2388E2" opacity="0.6"/>
<polygon points="170.2,521.1 202.0,536.0 202.0,562.0 170.2,547.1" fill="#2E9FEE" opacity="1"/>
<polygon points="202.0,536.0 231.4,521.1 231.4,547.1 202.0,562.0" fill="#2E9FEE" opacity="1"/>
<polygon points="257.1,508.1 302.4,485.2 302.4,511.2 257.1,534.1" fill="#2C9AEC" opacity="1"/>
<polygon points="314.7,479.0 324.5,474.0 324.5,500.0 314.7,505.0" fill="#2C9AEC" opacity="1"/>
</g>
<path d="M176.1,419.1Q192.0,411.0 208.2,418.6L308.3,465.4Q324.5,473.0 308.6,481.1L217.9,526.9Q202.0,535.0 185.8,527.4L85.7,480.6Q69.5,473.0 85.4,464.9Z" fill="#082A6C" stroke="#3FA8F2" stroke-width="1.2"/>
<path d="M186.6,377.1Q196.0,372.0 205.2,377.5L315.8,443.1Q325.0,448.6 315.4,453.4L211.6,506.2Q202.0,511.0 192.5,506.1L76.0,446.4Q66.5,441.5 75.9,436.4Z" fill="none" stroke="#2FA0F2" stroke-width="3" filter="url(#glow)" opacity="0.7"/>
<path d="M186.6,377.1Q196.0,372.0 205.2,377.5L315.8,443.1Q325.0,448.6 315.4,453.4L211.6,506.2Q202.0,511.0 192.5,506.1L76.0,446.4Q66.5,441.5 75.9,436.4Z" fill="none" stroke="#4DB6F6" stroke-width="1.4"/>
<circle cx="322" cy="449" r="3" fill="#5CC4F8" filter="url(#b1)" opacity="0.9"/><circle cx="71" cy="442.5" r="2.2" fill="#5CC4F8" filter="url(#b1)" opacity="0.8"/>
<clipPath id="ib2_2025_5135"><path d="M186.0,406.0Q192.0,402.5 198.2,405.6L292.8,454.1Q299.0,457.2 299.0,462.2L299.0,462.2Q299.0,467.2 293.0,470.8L208.5,520.0Q202.5,523.5 196.3,520.3L101.7,471.9Q95.5,468.7 95.5,463.7L95.5,463.7Q95.5,458.7 101.5,455.2Z"/></clipPath><g clip-path="url(#ib2_2025_5135)">
<polygon points="95.5,458.7 202.5,513.5 202.5,523.5 95.5,468.7" fill="#A9D2F8" />
<polygon points="202.5,513.5 299.0,457.2 299.0,467.2 202.5,523.5" fill="#8FC4F5" />
<polygon points="202.5,513.5 299.0,457.2 192.0,402.5 95.5,458.7" fill="url(#gPT)" />
</g>
<path d="M117.5,352.0Q117.5,342.0 126.3,337.3L187.2,304.7Q196.0,300.0 204.8,304.7L265.7,337.3Q274.5,342.0 274.5,352.0L274.5,445.0Q274.5,455.0 265.7,459.7L204.8,492.3Q196.0,497.0 187.2,492.3L126.3,459.7Q117.5,455.0 117.5,445.0Z" fill="url(#gg196)" />
<path d="M117.5,352.0Q117.5,342.0 126.3,337.3L187.2,304.7Q196.0,300.0 204.8,304.7L265.7,337.3Q274.5,342.0 274.5,352.0L274.5,445.0Q274.5,455.0 265.7,459.7L204.8,492.3Q196.0,497.0 187.2,492.3L126.3,459.7Q117.5,455.0 117.5,445.0Z" fill="none" stroke="#A9D4FB" stroke-width="0.9" opacity="0.75"/>
<path d="M117.5,414.5 L150,397 M274.5,419 L243,400" stroke="#6FC8F8" stroke-width="1.2" opacity="0.8" fill="none"/>
<polygon points="117.5,444.1 204.0,483.0 204.0,504.0 117.5,465.1" fill="#B4D6F8" />
<polygon points="204.0,483.0 274.5,444.2 274.5,465.2 204.0,504.0" fill="#DCEDFD" />
<polygon points="204.0,483.0 274.5,444.2 188.0,405.3 117.5,444.1" fill="#C9E3FB" />
<polygon points="162.0,445.0 196.0,462.0 196.0,468.0 162.0,451.0" fill="#C2DEFA" />
<polygon points="196.0,462.0 270.0,425.0 270.0,431.0 196.0,468.0" fill="#E3F1FD" />
<polygon points="196.0,462.0 270.0,425.0 236.0,408.0 162.0,445.0" fill="#D6EAFC" />
<polygon points="138.0,406.0 186.0,430.0 186.0,462.0 138.0,438.0" fill="#A9D0F7" />
<polygon points="186.0,430.0 208.0,419.0 208.0,451.0 186.0,462.0" fill="#B9D9F8" />
<polygon points="186.0,430.0 208.0,419.0 160.0,395.0 138.0,406.0" fill="#C0DDF9" />
<polygon points="163.0,388.5 186.0,400.0 186.0,450.0 163.0,438.5" fill="#A4CDF6" />
<polygon points="186.0,400.0 200.0,393.0 200.0,443.0 186.0,450.0" fill="#B5D7F8" />
<polygon points="186.0,400.0 200.0,393.0 177.0,381.5 163.0,388.5" fill="#B5D7F8" />
<polygon points="190.0,407.0 203.5,413.5 203.5,460.1 190.0,453.5" fill="#B2D5F8" />
<polygon points="203.5,413.5 217.5,400.5 217.5,446.9 203.5,460.1" fill="#5FA0EB" />
<polygon points="217.5,394.0 231.0,400.5 231.0,446.9 217.5,440.3" fill="#AED3F8" />
<polygon points="231.0,400.5 245.0,387.5 245.0,433.7 231.0,446.9" fill="#5A9CEA" />
<polygon points="245.0,381.0 256.0,387.5 256.0,433.7 245.0,427.1" fill="#A8CFF7" />
<polygon points="190.7,407.0 202.7,413.0 202.7,415.5 190.7,409.5" fill="#58C4F0" />
<polygon points="202.7,413.0 254.7,389.6 254.7,392.1 202.7,415.5" fill="#4FC2F0" />
<polygon points="202.7,413.0 254.7,389.6 242.7,383.6 190.7,407.0" fill="#6FD0F4" />
<polygon points="190.5,401.0 203.5,407.5 203.5,413.0 190.5,406.5" fill="#CFE6FC" />
<polygon points="203.5,407.5 256.5,383.6 256.5,389.1 203.5,413.0" fill="#E0F0FD" />
<polygon points="203.5,407.5 256.5,383.6 243.5,377.1 190.5,401.0" fill="#E3F2FD" />
<polygon points="176.7,383.0 202.7,396.0 202.7,402.0 176.7,389.0" fill="#6ACCF2" />
<polygon points="202.7,396.0 254.7,372.6 254.7,378.6 202.7,402.0" fill="#4FC8F2" />
<polygon points="202.7,396.0 254.7,372.6 228.7,359.6 176.7,383.0" fill="#8FE0F8" />
<polygon points="226.0,390.5 254.0,377.5 254.0,379.0 226.0,392.0" fill="#D8F4FD" />
<polygon points="137.0,372.0 146.0,368.0 152.0,371.0 143.0,375.0" fill="#5FC8F2" />
<ellipse cx="167" cy="419" rx="15.5" ry="19.5" fill="#6FA4EA" transform="rotate(-12 163.5 418.5)"/>
<ellipse cx="163.5" cy="418.5" rx="15.8" ry="19.8" fill="#1F66D6" transform="rotate(-12 163.5 418.5)"/>
<ellipse cx="163" cy="418.5" rx="13.2" ry="16.8" fill="#7FB4F2" transform="rotate(-12 163.5 418.5)"/>
<ellipse cx="163" cy="418.5" rx="10.6" ry="13.6" fill="#2A72DC" transform="rotate(-12 163.5 418.5)"/>
<ellipse cx="163" cy="418.5" rx="8" ry="10.5" fill="#8CBEF4" transform="rotate(-12 163.5 418.5)"/>
<path d="M160,414.5 q5.5,-1 5.5,4.5 q0,5.5 -4.5,5.5 q3,-2.5 1,-5.5 z" fill="#1F66D6"/>
<path d="M177.4,291.6Q182.5,288.5 187.6,291.6L225.4,314.9Q230.5,318.0 230.5,324.0L230.5,362.0Q230.5,368.0 225.6,371.5L204.4,387.0Q199.5,390.5 194.0,388.2L150.5,370.3Q145.0,368.0 145.0,362.0L145.0,317.0Q145.0,311.0 150.1,307.9Z" fill="#C4E0FA" />
<clipPath id="hd"><path d="M177.4,291.6Q182.5,288.5 187.6,291.6L225.4,314.9Q230.5,318.0 230.5,324.0L230.5,362.0Q230.5,368.0 225.6,371.5L204.4,387.0Q199.5,390.5 194.0,388.2L150.5,370.3Q145.0,368.0 145.0,362.0L145.0,317.0Q145.0,311.0 150.1,307.9Z"/></clipPath><g clip-path="url(#hd)">
<polygon points="145.0,311.0 200.5,334.5 199.5,391.0 145.0,368.0" fill="#BEDDF9" />
<polygon points="200.5,334.5 230.5,318.0 230.5,368.0 199.5,391.0" fill="#A2CDF6" />
<polygon points="200.5,334.5 214.0,327.0 214.0,382.0 199.5,391.0" fill="#C0DEFA" />
<polygon points="182.5,288.5 230.5,318.0 200.5,334.5 145.0,311.0" fill="#CBE5FB" />
</g>
<polygon points="168.5,308.0 188.0,298.0 214.5,313.5 194.0,322.0" fill="#5AAAEE" />
<polygon points="178.0,312.5 187.0,308.0 205.0,316.5 195.5,320.0" fill="#E4F2FE" />
<path d="M149.0,327.0Q149.0,322.0 153.5,324.2L187.5,340.8Q192.0,343.0 192.0,348.0L192.0,376.0Q192.0,381.0 187.4,379.1L153.6,365.4Q149.0,363.5 149.0,358.5Z" fill="#1464E0" />
<path d="M157.0,337.0Q157.0,335.5 158.3,336.2L161.2,337.5Q162.5,338.2 162.5,339.7L162.5,342.7Q162.5,344.2 161.2,343.5L158.3,342.2Q157.0,341.5 157.0,340.0Z" fill="#8FC2F6" />
<path d="M166.3,341.6Q166.3,340.1 167.6,340.8L170.5,342.1Q171.8,342.8 171.8,344.3L171.8,347.3Q171.8,348.8 170.5,348.1L167.6,346.8Q166.3,346.1 166.3,344.6Z" fill="#8FC2F6" />
<path d="M175.6,346.2Q175.6,344.7 176.9,345.4L179.8,346.7Q181.1,347.4 181.1,348.9L181.1,351.9Q181.1,353.4 179.8,352.7L176.9,351.4Q175.6,350.7 175.6,349.2Z" fill="#8FC2F6" />
<path d="M157.0,347.3Q157.0,345.8 158.3,346.5L161.2,347.8Q162.5,348.5 162.5,350.0L162.5,353.0Q162.5,354.5 161.2,353.8L158.3,352.5Q157.0,351.8 157.0,350.3Z" fill="#8FC2F6" />
<path d="M166.3,351.9Q166.3,350.4 167.6,351.1L170.5,352.4Q171.8,353.1 171.8,354.6L171.8,357.6Q171.8,359.1 170.5,358.4L167.6,357.1Q166.3,356.4 166.3,354.9Z" fill="#8FC2F6" />
<path d="M175.6,356.5Q175.6,355.0 176.9,355.7L179.8,357.0Q181.1,357.7 181.1,359.2L181.1,362.2Q181.1,363.7 179.8,363.0L176.9,361.7Q175.6,361.0 175.6,359.5Z" fill="#8FC2F6" />
<path d="M157.0,357.6Q157.0,356.1 158.3,356.8L161.2,358.1Q162.5,358.8 162.5,360.3L162.5,363.3Q162.5,364.8 161.2,364.1L158.3,362.8Q157.0,362.1 157.0,360.6Z" fill="#8FC2F6" />
<path d="M166.3,362.2Q166.3,360.7 167.6,361.4L170.5,362.7Q171.8,363.4 171.8,364.9L171.8,367.9Q171.8,369.4 170.5,368.7L167.6,367.4Q166.3,366.7 166.3,365.2Z" fill="#8FC2F6" />
<path d="M175.6,366.8Q175.6,365.3 176.9,366.0L179.8,367.3Q181.1,368.0 181.1,369.5L181.1,372.5Q181.1,374.0 179.8,373.3L176.9,372.0Q175.6,371.3 175.6,369.8Z" fill="#8FC2F6" />
<polygon points="117.5,342.0 196.0,384.0 196.0,497.0 117.5,455.0" fill="#6AAEF4" opacity="0.22"/>
<polygon points="196.0,384.0 274.5,342.0 274.5,455.0 196.0,497.0" fill="#4A94EC" opacity="0.22"/>
<path d="M117.5,350 L117.5,455 M274.5,350 L274.5,455" stroke="#B5DAFC" stroke-width="0.9" opacity="0.6"/>
<path d="M911.1,261.9Q915.5,259.5 919.9,261.9L967.1,288.1Q971.5,290.5 967.1,292.9L919.9,319.1Q915.5,321.5 911.1,319.1L863.9,292.9Q859.5,290.5 863.9,288.1Z" fill="#06183F" stroke="#3B7CCB" stroke-opacity="0.5" stroke-width="0.8"/>
<path d="M911.1,265.9Q915.5,263.5 919.9,265.9L967.1,292.1Q971.5,294.5 967.1,296.9L919.9,323.1Q915.5,325.5 911.1,323.1L863.9,296.9Q859.5,294.5 863.9,292.1Z" fill="#06183F" fill-opacity="0.0" stroke="#3B7CCB" stroke-opacity="0.38" stroke-width="0.8"/>
<path d="M910.2,220.4Q915.5,217.5 920.8,220.4L957.2,240.1Q962.5,243.0 962.5,249.0L962.5,274.5Q962.5,280.5 957.2,283.4L920.8,303.1Q915.5,306.0 910.2,303.1L873.8,283.4Q868.5,280.5 868.5,274.5L868.5,249.0Q868.5,243.0 873.8,240.1Z" fill="#3D8FEA" filter="url(#glow)" opacity="0.6"/>
<path d="M911.1,219.9Q915.5,217.5 919.9,219.9L958.1,240.6Q962.5,243.0 962.5,248.0L962.5,275.5Q962.5,280.5 958.1,282.9L919.9,303.6Q915.5,306.0 911.1,303.6L872.9,282.9Q868.5,280.5 868.5,275.5L868.5,248.0Q868.5,243.0 872.9,240.6Z" fill="#58A8F0" />
<clipPath id="c915_243"><path d="M911.1,219.9Q915.5,217.5 919.9,219.9L958.1,240.6Q962.5,243.0 962.5,248.0L962.5,275.5Q962.5,280.5 958.1,282.9L919.9,303.6Q915.5,306.0 911.1,303.6L872.9,282.9Q868.5,280.5 868.5,275.5L868.5,248.0Q868.5,243.0 872.9,240.6Z"/></clipPath>
<g clip-path="url(#c915_243)">
<polygon points="868.5,243.0 915.5,268.5 915.5,306.0 868.5,280.5" fill="url(#gL)" />
<polygon points="915.5,268.5 962.5,243.0 962.5,280.5 915.5,306.0" fill="url(#gR)" />
<polygon points="915.5,217.5 962.5,243.0 915.5,268.5 868.5,243.0" fill="url(#gTop)" />
<polygon points="873.2,248.6 914.1,270.7 914.1,291.0 873.2,268.8" fill="#4896EB" opacity="0.7"/>
<polygon points="916.9,270.7 957.8,248.6 957.8,268.8 916.9,291.0" fill="#418FE8" opacity="0.65"/>
<polygon points="870.5,261.2 915.5,285.8 915.5,293.2 870.5,268.8" fill="#A8D4F8" opacity="0.6"/>
<polygon points="915.5,285.8 960.5,261.2 960.5,268.8 915.5,293.2" fill="#9CCCF6" opacity="0.55"/>
<polygon points="870.5,268.0 915.5,292.5 915.5,302.2 870.5,277.8" fill="#D8ECFD" opacity="0.88"/>
<polygon points="915.5,292.5 960.5,268.0 960.5,277.8 915.5,302.2" fill="#C6E2FB" opacity="0.82"/>
<polyline points="868.5,243.0 915.5,268.5 962.5,243.0" fill="none" stroke="#9FD2FB" stroke-width="1.3" opacity="0.85"/>
<line x1="915.5" y1="268.5" x2="915.5" y2="306.0" stroke="#B5DBFB" stroke-width="1" opacity="0.55"/>
</g>
<path d="M911.1,378.4Q915.5,376.0 919.9,378.4L967.1,404.6Q971.5,407.0 967.1,409.4L919.9,435.6Q915.5,438.0 911.1,435.6L863.9,409.4Q859.5,407.0 863.9,404.6Z" fill="#06183F" stroke="#3B7CCB" stroke-opacity="0.5" stroke-width="0.8"/>
<path d="M911.1,382.4Q915.5,380.0 919.9,382.4L967.1,408.6Q971.5,411.0 967.1,413.4L919.9,439.6Q915.5,442.0 911.1,439.6L863.9,413.4Q859.5,411.0 863.9,408.6Z" fill="#06183F" fill-opacity="0.0" stroke="#3B7CCB" stroke-opacity="0.38" stroke-width="0.8"/>
<path d="M910.2,336.9Q915.5,334.0 920.8,336.9L957.2,356.6Q962.5,359.5 962.5,365.5L962.5,391.0Q962.5,397.0 957.2,399.9L920.8,419.6Q915.5,422.5 910.2,419.6L873.8,399.9Q868.5,397.0 868.5,391.0L868.5,365.5Q868.5,359.5 873.8,356.6Z" fill="#3D8FEA" filter="url(#glow)" opacity="0.6"/>
<path d="M911.1,336.4Q915.5,334.0 919.9,336.4L958.1,357.1Q962.5,359.5 962.5,364.5L962.5,392.0Q962.5,397.0 958.1,399.4L919.9,420.1Q915.5,422.5 911.1,420.1L872.9,399.4Q868.5,397.0 868.5,392.0L868.5,364.5Q868.5,359.5 872.9,357.1Z" fill="#58A8F0" />
<clipPath id="c915_359"><path d="M911.1,336.4Q915.5,334.0 919.9,336.4L958.1,357.1Q962.5,359.5 962.5,364.5L962.5,392.0Q962.5,397.0 958.1,399.4L919.9,420.1Q915.5,422.5 911.1,420.1L872.9,399.4Q868.5,397.0 868.5,392.0L868.5,364.5Q868.5,359.5 872.9,357.1Z"/></clipPath>
<g clip-path="url(#c915_359)">
<polygon points="868.5,359.5 915.5,385.0 915.5,422.5 868.5,397.0" fill="url(#gL)" />
<polygon points="915.5,385.0 962.5,359.5 962.5,397.0 915.5,422.5" fill="url(#gR)" />
<polygon points="915.5,334.0 962.5,359.5 915.5,385.0 868.5,359.5" fill="url(#gTop)" />
<polygon points="873.2,365.1 914.1,387.2 914.1,407.5 873.2,385.3" fill="#4896EB" opacity="0.7"/>
<polygon points="916.9,387.2 957.8,365.1 957.8,385.3 916.9,407.5" fill="#418FE8" opacity="0.65"/>
<polygon points="870.5,377.8 915.5,402.2 915.5,409.8 870.5,385.2" fill="#A8D4F8" opacity="0.6"/>
<polygon points="915.5,402.2 960.5,377.8 960.5,385.2 915.5,409.8" fill="#9CCCF6" opacity="0.55"/>
<polygon points="870.5,384.5 915.5,409.0 915.5,418.8 870.5,394.2" fill="#D8ECFD" opacity="0.88"/>
<polygon points="915.5,409.0 960.5,384.5 960.5,394.2 915.5,418.8" fill="#C6E2FB" opacity="0.82"/>
<polyline points="868.5,359.5 915.5,385.0 962.5,359.5" fill="none" stroke="#9FD2FB" stroke-width="1.3" opacity="0.85"/>
<line x1="915.5" y1="385.0" x2="915.5" y2="422.5" stroke="#B5DBFB" stroke-width="1" opacity="0.55"/>
</g>
<path d="M911.1,492.9Q915.5,490.5 919.9,492.9L967.1,519.1Q971.5,521.5 967.1,523.9L919.9,550.1Q915.5,552.5 911.1,550.1L863.9,523.9Q859.5,521.5 863.9,519.1Z" fill="#06183F" stroke="#3B7CCB" stroke-opacity="0.5" stroke-width="0.8"/>
<path d="M911.1,496.9Q915.5,494.5 919.9,496.9L967.1,523.1Q971.5,525.5 967.1,527.9L919.9,554.1Q915.5,556.5 911.1,554.1L863.9,527.9Q859.5,525.5 863.9,523.1Z" fill="#06183F" fill-opacity="0.0" stroke="#3B7CCB" stroke-opacity="0.38" stroke-width="0.8"/>
<path d="M910.2,450.9Q915.5,448.0 920.8,450.9L957.2,470.6Q962.5,473.5 962.5,479.5L962.5,505.5Q962.5,511.5 957.2,514.4L920.8,534.1Q915.5,537.0 910.2,534.1L873.8,514.4Q868.5,511.5 868.5,505.5L868.5,479.5Q868.5,473.5 873.8,470.6Z" fill="#3D8FEA" filter="url(#glow)" opacity="0.6"/>
<path d="M911.1,450.4Q915.5,448.0 919.9,450.4L958.1,471.1Q962.5,473.5 962.5,478.5L962.5,506.5Q962.5,511.5 958.1,513.9L919.9,534.6Q915.5,537.0 911.1,534.6L872.9,513.9Q868.5,511.5 868.5,506.5L868.5,478.5Q868.5,473.5 872.9,471.1Z" fill="#58A8F0" />
<clipPath id="c915_473"><path d="M911.1,450.4Q915.5,448.0 919.9,450.4L958.1,471.1Q962.5,473.5 962.5,478.5L962.5,506.5Q962.5,511.5 958.1,513.9L919.9,534.6Q915.5,537.0 911.1,534.6L872.9,513.9Q868.5,511.5 868.5,506.5L868.5,478.5Q868.5,473.5 872.9,471.1Z"/></clipPath>
<g clip-path="url(#c915_473)">
<polygon points="868.5,473.5 915.5,499.0 915.5,537.0 868.5,511.5" fill="url(#gL)" />
<polygon points="915.5,499.0 962.5,473.5 962.5,511.5 915.5,537.0" fill="url(#gR)" />
<polygon points="915.5,448.0 962.5,473.5 915.5,499.0 868.5,473.5" fill="url(#gTop)" />
<polygon points="873.2,479.1 914.1,501.2 914.1,521.8 873.2,499.6" fill="#4896EB" opacity="0.7"/>
<polygon points="916.9,501.2 957.8,479.1 957.8,499.6 916.9,521.8" fill="#418FE8" opacity="0.65"/>
<polygon points="870.5,492.0 915.5,516.5 915.5,524.1 870.5,499.6" fill="#A8D4F8" opacity="0.6"/>
<polygon points="915.5,516.5 960.5,492.0 960.5,499.6 915.5,524.1" fill="#9CCCF6" opacity="0.55"/>
<polygon points="870.5,498.8 915.5,523.3 915.5,533.2 870.5,508.7" fill="#D8ECFD" opacity="0.88"/>
<polygon points="915.5,523.3 960.5,498.8 960.5,508.7 915.5,533.2" fill="#C6E2FB" opacity="0.82"/>
<polyline points="868.5,473.5 915.5,499.0 962.5,473.5" fill="none" stroke="#9FD2FB" stroke-width="1.3" opacity="0.85"/>
<line x1="915.5" y1="499.0" x2="915.5" y2="537.0" stroke="#B5DBFB" stroke-width="1" opacity="0.55"/>
</g>
<path d="M451.1,492.4Q455.5,490.0 459.9,492.4L507.1,518.6Q511.5,521.0 507.1,523.4L459.9,549.6Q455.5,552.0 451.1,549.6L403.9,523.4Q399.5,521.0 403.9,518.6Z" fill="#06183F" stroke="#3B7CCB" stroke-opacity="0.5" stroke-width="0.8"/>
<path d="M451.1,496.4Q455.5,494.0 459.9,496.4L507.1,522.6Q511.5,525.0 507.1,527.4L459.9,553.6Q455.5,556.0 451.1,553.6L403.9,527.4Q399.5,525.0 403.9,522.6Z" fill="#06183F" fill-opacity="0.0" stroke="#3B7CCB" stroke-opacity="0.38" stroke-width="0.8"/>
<path d="M450.2,449.4Q455.5,446.5 460.8,449.4L497.2,469.1Q502.5,472.0 502.5,478.0L502.5,505.0Q502.5,511.0 497.2,513.9L460.8,533.6Q455.5,536.5 450.2,533.6L413.8,513.9Q408.5,511.0 408.5,505.0L408.5,478.0Q408.5,472.0 413.8,469.1Z" fill="#3D8FEA" filter="url(#glow)" opacity="0.6"/>
<path d="M451.1,448.9Q455.5,446.5 459.9,448.9L498.1,469.6Q502.5,472.0 502.5,477.0L502.5,506.0Q502.5,511.0 498.1,513.4L459.9,534.1Q455.5,536.5 451.1,534.1L412.9,513.4Q408.5,511.0 408.5,506.0L408.5,477.0Q408.5,472.0 412.9,469.6Z" fill="#58A8F0" />
<clipPath id="c455_472"><path d="M451.1,448.9Q455.5,446.5 459.9,448.9L498.1,469.6Q502.5,472.0 502.5,477.0L502.5,506.0Q502.5,511.0 498.1,513.4L459.9,534.1Q455.5,536.5 451.1,534.1L412.9,513.4Q408.5,511.0 408.5,506.0L408.5,477.0Q408.5,472.0 412.9,469.6Z"/></clipPath>
<g clip-path="url(#c455_472)">
<polygon points="408.5,472.0 455.5,497.5 455.5,536.5 408.5,511.0" fill="url(#gL)" />
<polygon points="455.5,497.5 502.5,472.0 502.5,511.0 455.5,536.5" fill="url(#gR)" />
<polygon points="455.5,446.5 502.5,472.0 455.5,497.5 408.5,472.0" fill="url(#gTop)" />
<polygon points="413.2,477.6 454.1,499.7 454.1,520.9 413.2,498.7" fill="#4896EB" opacity="0.7"/>
<polygon points="456.9,499.7 497.8,477.6 497.8,498.7 456.9,520.9" fill="#418FE8" opacity="0.65"/>
<polygon points="410.5,490.9 455.5,515.4 455.5,523.2 410.5,498.7" fill="#A8D4F8" opacity="0.6"/>
<polygon points="455.5,515.4 500.5,490.9 500.5,498.7 455.5,523.2" fill="#9CCCF6" opacity="0.55"/>
<polygon points="410.5,498.0 455.5,522.5 455.5,532.6 410.5,508.1" fill="#D8ECFD" opacity="0.88"/>
<polygon points="455.5,522.5 500.5,498.0 500.5,508.1 455.5,532.6" fill="#C6E2FB" opacity="0.82"/>
<polyline points="408.5,472.0 455.5,497.5 502.5,472.0" fill="none" stroke="#9FD2FB" stroke-width="1.3" opacity="0.85"/>
<line x1="455.5" y1="497.5" x2="455.5" y2="536.5" stroke="#B5DBFB" stroke-width="1" opacity="0.55"/>
</g>
<path d="M604.6,492.4Q609.0,490.0 613.4,492.4L660.6,518.6Q665.0,521.0 660.6,523.4L613.4,549.6Q609.0,552.0 604.6,549.6L557.4,523.4Q553.0,521.0 557.4,518.6Z" fill="#06183F" stroke="#3B7CCB" stroke-opacity="0.5" stroke-width="0.8"/>
<path d="M604.6,496.4Q609.0,494.0 613.4,496.4L660.6,522.6Q665.0,525.0 660.6,527.4L613.4,553.6Q609.0,556.0 604.6,553.6L557.4,527.4Q553.0,525.0 557.4,522.6Z" fill="#06183F" fill-opacity="0.0" stroke="#3B7CCB" stroke-opacity="0.38" stroke-width="0.8"/>
<path d="M603.7,449.9Q609.0,447.0 614.3,449.9L650.7,469.6Q656.0,472.5 656.0,478.5L656.0,505.0Q656.0,511.0 650.7,513.9L614.3,533.6Q609.0,536.5 603.7,533.6L567.3,513.9Q562.0,511.0 562.0,505.0L562.0,478.5Q562.0,472.5 567.3,469.6Z" fill="#3D8FEA" filter="url(#glow)" opacity="0.6"/>
<path d="M604.6,449.4Q609.0,447.0 613.4,449.4L651.6,470.1Q656.0,472.5 656.0,477.5L656.0,506.0Q656.0,511.0 651.6,513.4L613.4,534.1Q609.0,536.5 604.6,534.1L566.4,513.4Q562.0,511.0 562.0,506.0L562.0,477.5Q562.0,472.5 566.4,470.1Z" fill="#58A8F0" />
<clipPath id="c609_472"><path d="M604.6,449.4Q609.0,447.0 613.4,449.4L651.6,470.1Q656.0,472.5 656.0,477.5L656.0,506.0Q656.0,511.0 651.6,513.4L613.4,534.1Q609.0,536.5 604.6,534.1L566.4,513.4Q562.0,511.0 562.0,506.0L562.0,477.5Q562.0,472.5 566.4,470.1Z"/></clipPath>
<g clip-path="url(#c609_472)">
<polygon points="562.0,472.5 609.0,498.0 609.0,536.5 562.0,511.0" fill="url(#gL)" />
<polygon points="609.0,498.0 656.0,472.5 656.0,511.0 609.0,536.5" fill="url(#gR)" />
<polygon points="609.0,447.0 656.0,472.5 609.0,498.0 562.0,472.5" fill="url(#gTop)" />
<polygon points="566.7,478.1 607.6,500.2 607.6,521.1 566.7,498.9" fill="#4896EB" opacity="0.7"/>
<polygon points="610.4,500.2 651.3,478.1 651.3,498.9 610.4,521.1" fill="#418FE8" opacity="0.65"/>
<polygon points="564.0,491.2 609.0,515.7 609.0,523.4 564.0,498.9" fill="#A8D4F8" opacity="0.6"/>
<polygon points="609.0,515.7 654.0,491.2 654.0,498.9 609.0,523.4" fill="#9CCCF6" opacity="0.55"/>
<polygon points="564.0,498.1 609.0,522.6 609.0,532.6 564.0,508.1" fill="#D8ECFD" opacity="0.88"/>
<polygon points="609.0,522.6 654.0,498.1 654.0,508.1 609.0,532.6" fill="#C6E2FB" opacity="0.82"/>
<polyline points="562.0,472.5 609.0,498.0 656.0,472.5" fill="none" stroke="#9FD2FB" stroke-width="1.3" opacity="0.85"/>
<line x1="609" y1="498.0" x2="609" y2="536.5" stroke="#B5DBFB" stroke-width="1" opacity="0.55"/>
</g>
<path d="M758.1,492.4Q762.5,490.0 766.9,492.4L814.1,518.6Q818.5,521.0 814.1,523.4L766.9,549.6Q762.5,552.0 758.1,549.6L710.9,523.4Q706.5,521.0 710.9,518.6Z" fill="#06183F" stroke="#3B7CCB" stroke-opacity="0.5" stroke-width="0.8"/>
<path d="M758.1,496.4Q762.5,494.0 766.9,496.4L814.1,522.6Q818.5,525.0 814.1,527.4L766.9,553.6Q762.5,556.0 758.1,553.6L710.9,527.4Q706.5,525.0 710.9,522.6Z" fill="#06183F" fill-opacity="0.0" stroke="#3B7CCB" stroke-opacity="0.38" stroke-width="0.8"/>
<path d="M757.2,450.9Q762.5,448.0 767.8,450.9L804.2,470.6Q809.5,473.5 809.5,479.5L809.5,505.0Q809.5,511.0 804.2,513.9L767.8,533.6Q762.5,536.5 757.2,533.6L720.8,513.9Q715.5,511.0 715.5,505.0L715.5,479.5Q715.5,473.5 720.8,470.6Z" fill="#3D8FEA" filter="url(#glow)" opacity="0.6"/>
<path d="M758.1,450.4Q762.5,448.0 766.9,450.4L805.1,471.1Q809.5,473.5 809.5,478.5L809.5,506.0Q809.5,511.0 805.1,513.4L766.9,534.1Q762.5,536.5 758.1,534.1L719.9,513.4Q715.5,511.0 715.5,506.0L715.5,478.5Q715.5,473.5 719.9,471.1Z" fill="#58A8F0" />
<clipPath id="c762_473"><path d="M758.1,450.4Q762.5,448.0 766.9,450.4L805.1,471.1Q809.5,473.5 809.5,478.5L809.5,506.0Q809.5,511.0 805.1,513.4L766.9,534.1Q762.5,536.5 758.1,534.1L719.9,513.4Q715.5,511.0 715.5,506.0L715.5,478.5Q715.5,473.5 719.9,471.1Z"/></clipPath>
<g clip-path="url(#c762_473)">
<polygon points="715.5,473.5 762.5,499.0 762.5,536.5 715.5,511.0" fill="url(#gL)" />
<polygon points="762.5,499.0 809.5,473.5 809.5,511.0 762.5,536.5" fill="url(#gR)" />
<polygon points="762.5,448.0 809.5,473.5 762.5,499.0 715.5,473.5" fill="url(#gTop)" />
<polygon points="720.2,479.1 761.1,501.2 761.1,521.5 720.2,499.3" fill="#4896EB" opacity="0.7"/>
<polygon points="763.9,501.2 804.8,479.1 804.8,499.3 763.9,521.5" fill="#418FE8" opacity="0.65"/>
<polygon points="717.5,491.8 762.5,516.2 762.5,523.8 717.5,499.2" fill="#A8D4F8" opacity="0.6"/>
<polygon points="762.5,516.2 807.5,491.8 807.5,499.2 762.5,523.8" fill="#9CCCF6" opacity="0.55"/>
<polygon points="717.5,498.5 762.5,523.0 762.5,532.8 717.5,508.2" fill="#D8ECFD" opacity="0.88"/>
<polygon points="762.5,523.0 807.5,498.5 807.5,508.2 762.5,532.8" fill="#C6E2FB" opacity="0.82"/>
<polyline points="715.5,473.5 762.5,499.0 809.5,473.5" fill="none" stroke="#9FD2FB" stroke-width="1.3" opacity="0.85"/>
<line x1="762.5" y1="499.0" x2="762.5" y2="536.5" stroke="#B5DBFB" stroke-width="1" opacity="0.55"/>
</g>
<polygon points="870.5,246.0 914.5,270.5 914.5,302.5 870.5,278.0" fill="#8CC6F7" opacity="0.75"/>
<polygon points="916.5,270.5 960.5,246.0 960.5,278.0 916.5,302.5" fill="#7FBCF5" opacity="0.7"/>
<path d="M893.0,243.5 l26,13" stroke="#DCEEFD" stroke-width="6" stroke-linecap="round"/>
<path d="M893.0,242.5 l26,13" stroke="#F2F9FF" stroke-width="3.4" stroke-linecap="round"/>
<path d="M901.2,239.2 l26,13" stroke="#DCEEFD" stroke-width="6" stroke-linecap="round"/>
<path d="M901.2,238.2 l26,13" stroke="#F2F9FF" stroke-width="3.4" stroke-linecap="round"/>
<path d="M909.4,234.9 l26,13" stroke="#DCEEFD" stroke-width="6" stroke-linecap="round"/>
<path d="M909.4,233.9 l26,13" stroke="#F2F9FF" stroke-width="3.4" stroke-linecap="round"/>
<path d="M917.6,230.6 l26,13" stroke="#DCEEFD" stroke-width="6" stroke-linecap="round"/>
<path d="M917.6,229.6 l26,13" stroke="#F2F9FF" stroke-width="3.4" stroke-linecap="round"/>
<g stroke="#EAF5FE" stroke-width="1" opacity="0.85">
<line x1="873.0" y1="264.0" x2="873.0" y2="277.0"/>
<line x1="878.3" y1="261.9" x2="878.3" y2="279.9"/>
<line x1="883.6" y1="272.8" x2="883.6" y2="282.8"/>
<line x1="888.9" y1="269.7" x2="888.9" y2="285.7"/>
<line x1="894.2" y1="280.6" x2="894.2" y2="288.6"/>
<line x1="899.5" y1="277.5" x2="899.5" y2="291.5"/>
<line x1="904.8" y1="283.4" x2="904.8" y2="294.4"/>
<line x1="910.1" y1="280.3" x2="910.1" y2="297.3"/>
</g>
<g stroke="#EAF5FE" stroke-width="1" opacity="0.65" stroke-dasharray="1.5 2.5">
<line x1="918" y1="274.0" x2="960" y2="251.0"/>
<line x1="918" y1="280.5" x2="960" y2="257.5"/>
<line x1="918" y1="287.0" x2="960" y2="264.0"/>
<line x1="918" y1="293.5" x2="960" y2="270.5"/>
</g>
<polyline points="869.5,276.0 915.5,300.5 961.5,276.0" fill="none" stroke="#E3F2FE" stroke-width="2.2" opacity="0.85"/>
<g opacity="1" >
<path d="M913.3,346.0Q915.0,345.0 916.7,346.0L932.3,355.5Q934.0,356.5 934.0,358.2L934.0,358.2Q934.0,360.0 932.3,361.0L916.7,370.5Q915.0,371.5 913.3,370.5L897.7,361.0Q896.0,360.0 896.0,358.2L896.0,358.2Q896.0,356.5 897.7,355.5Z" fill="#7CC8F4" stroke="#7CC8F4" stroke-width="0.5"/>
<clipPath id="ib9150_3565"><path d="M913.3,346.0Q915.0,345.0 916.7,346.0L932.3,355.5Q934.0,356.5 934.0,358.2L934.0,358.2Q934.0,360.0 932.3,361.0L916.7,370.5Q915.0,371.5 913.3,370.5L897.7,361.0Q896.0,360.0 896.0,358.2L896.0,358.2Q896.0,356.5 897.7,355.5Z"/></clipPath><g clip-path="url(#ib9150_3565)">
<polygon points="896.0,356.5 915.0,368.0 915.0,371.5 896.0,360.0" fill="#7CC8F4" />
<polygon points="915.0,368.0 934.0,356.5 934.0,360.0 915.0,371.5" fill="#3F9CE6" />
<polygon points="915.0,345.0 934.0,356.5 915.0,368.0 896.0,356.5" fill="#58B2F3" />
</g>
</g>
<path d="M902.5,353 l1.5,-6 l3,3.5 l2,-5 l5,1.5 l5,-1.5 l2,5 l3,-3.5 l1.5,6 l-11.5,6.5 z" fill="#8FD4F6"/>
<path d="M904,352.5 l3,1.5 l2,-2 l3,3 l3,-0.5 l3,0.5 l3,-3 l2,2 l3,-1.5 l-11,6 z" fill="#DDF1FD"/>
<ellipse cx="914.3" cy="348" rx="6.3" ry="4.2" fill="#9CD0F6"/>
<ellipse cx="914.3" cy="344.3" rx="6.5" ry="5" fill="#EAF5FE"/>
<g fill="none" stroke="#A4E6F9" stroke-width="1.15" stroke-linejoin="round" stroke-linecap="round">
<path d="M910.9,463.5Q913.5,461.9 916.1,463.4L931.6,472.5Q934.2,474.0 931.7,475.6L917.0,484.7Q914.5,486.3 912.1,484.4L899.0,474.1Q896.6,472.2 899.2,470.6Z"/>
<path d="M896.8,474.5 l0,2.5 l17.7,12 l19.7,-12.3 l0,-2.5" opacity="0.8"/>
<path d="M905,467 L924.3,480.2 M923.8,468 L905.5,479.3"/>
<path d="M909.5,470.5 l4,-2.3 l4,2.5 M905.8,474 l3.4,2.6 M919.5,477 l4.5,-2.8 M912,479.5 l3,2" opacity="0.85"/>
</g>
<polygon points="416.5,482.0 453.5,502.0 453.5,506.5 416.5,486.5" fill="#D6EAFD" opacity="0.92"/>
<polygon points="416.5,489.0 453.5,509.0 453.5,513.5 416.5,493.5" fill="#D6EAFD" opacity="0.92"/>
<polygon points="416.5,496.0 453.5,516.0 453.5,520.5 416.5,500.5" fill="#D6EAFD" opacity="0.92"/>
<polygon points="416.5,503.0 453.5,523.0 453.5,527.5 416.5,507.5" fill="#D6EAFD" opacity="0.92"/>
<polygon points="464.5,497.5 492.5,482.5 492.5,485.7 464.5,500.7" fill="#2470DC" opacity="0.9"/>
<polygon points="464.5,504.5 492.5,489.5 492.5,492.7 464.5,507.7" fill="#2470DC" opacity="0.9"/>
<polygon points="464.5,511.5 492.5,496.5 492.5,499.7 464.5,514.7" fill="#2470DC" opacity="0.9"/>
<polygon points="464.5,518.5 492.5,503.5 492.5,506.7 464.5,521.7" fill="#2470DC" opacity="0.9"/>
<ellipse cx="455.8" cy="475.5" rx="13" ry="5.5" fill="#9CCBF5"/>
<ellipse cx="455.8" cy="474" rx="13" ry="5.5" fill="#DCEEFD"/>
<path d="M448.3,472 q0.5,-6 3.5,-7 l7.5,0 q3,1 3.5,7 z" fill="#C9E3FB"/>
<ellipse cx="455.8" cy="465.5" rx="5.5" ry="2.2" fill="#3F8EE4"/>
<ellipse cx="455.8" cy="457.5" rx="8.3" ry="7" fill="#E6F3FE"/>
<g transform="translate(1.8 4) translate(608 468) scale(1.06) translate(-608 -468)">
<path d="M592.5,474 q-2,-20 14,-22 q16,-1 18,14 l0,8 l-10,6 l-4,-2 l0,-8 q-2,-6 -8,-2 l0,10 z" fill="#7CC6F5"/>
<path d="M592.5,474 q-2,-20 14,-22 q-6,8 -4,22 l0,4 z" fill="#4DB8F2"/>
<path d="M599,456.5 q6,-6 14,-4 q9,2 11,11 l-10,5 q-2,-8 -11,-6 z" fill="#E8F4FE"/>
<path d="M603,477 q-1,-9 3,-12 q5,-1 5,5 l0,9 l-4,1.5 z" fill="#3F8EE4"/>
</g>
<g opacity="1" >
<polygon points="741.9,466.5 762.9,478.0 762.9,486.0 741.9,474.5" fill="#B9E6FA" />
<polygon points="762.9,478.0 783.9,466.5 783.9,474.5 762.9,486.0" fill="#8FD4F5" />
<polygon points="762.9,455.0 783.9,466.5 762.9,478.0 741.9,466.5" fill="#A8E0F8" />
</g>
<g opacity="1" >
<polygon points="741.9,463.5 762.9,475.0 762.9,478.5 741.9,467.0" fill="#49BEEE" />
<polygon points="762.9,475.0 783.9,463.5 783.9,467.0 762.9,478.5" fill="#2AA6E4" />
<polygon points="762.9,452.0 783.9,463.5 762.9,475.0 741.9,463.5" fill="#35B4EA" />
</g>
<g opacity="1" >
<polygon points="742.9,462.5 762.9,473.5 762.9,474.7 742.9,463.7" fill="#BFE6F9" />
<polygon points="762.9,473.5 782.9,462.5 782.9,463.7 762.9,474.7" fill="#A8DCF6" />
<polygon points="762.9,451.5 782.9,462.5 762.9,473.5 742.9,462.5" fill="#D4EBFB" />
</g>
<path d="M751,462.5 l12,-6.5 l12,6.5 l-12,6.5 z M757,459.3 l12,6.5" fill="none" stroke="#F4FBFF" stroke-width="0.9" opacity="0.9"/>
<line x1="812" y1="264.5" x2="855.5" y2="264.51" stroke="url(#ar812_264)" stroke-width="2.4" stroke-linecap="round"/>
<polyline points="848.8,271.2 855.5,264.5 848.8,257.8" fill="none" stroke="#BCD0EE" stroke-width="2.4" stroke-linecap="round" stroke-linejoin="round"/>
<line x1="812" y1="380.5" x2="855" y2="380.51" stroke="url(#ar812_380)" stroke-width="2.4" stroke-linecap="round"/>
<polyline points="848.3,387.2 855.0,380.5 848.3,373.8" fill="none" stroke="#BCD0EE" stroke-width="2.4" stroke-linecap="round" stroke-linejoin="round"/>
<line x1="505" y1="496" x2="550" y2="496.01" stroke="url(#ar505_496)" stroke-width="2.4" stroke-linecap="round"/>
<polyline points="543.3,502.7 550.0,496.0 543.3,489.3" fill="none" stroke="#BCD0EE" stroke-width="2.4" stroke-linecap="round" stroke-linejoin="round"/>
<line x1="658" y1="496" x2="702" y2="496.01" stroke="url(#ar658_496)" stroke-width="2.4" stroke-linecap="round"/>
<polyline points="695.3,502.7 702.0,496.0 695.3,489.3" fill="none" stroke="#BCD0EE" stroke-width="2.4" stroke-linecap="round" stroke-linejoin="round"/>
<line x1="811" y1="496" x2="856" y2="496.01" stroke="url(#ar811_496)" stroke-width="2.4" stroke-linecap="round"/>
<polyline points="849.3,502.7 856.0,496.0 849.3,489.3" fill="none" stroke="#BCD0EE" stroke-width="2.4" stroke-linecap="round" stroke-linejoin="round"/>
<line x1="420" y1="366" x2="457" y2="360.01" stroke="url(#ar420_366)" stroke-width="2.5" stroke-linecap="round"/>
<polyline points="453.2,365.3 457.0,360.0 451.7,356.2" fill="none" stroke="#BCD0EE" stroke-width="2.5" stroke-linecap="round" stroke-linejoin="round"/>
<line x1="561" y1="299" x2="600" y2="271.01" stroke="url(#ar561_299)" stroke-width="2.5" stroke-linecap="round"/>
<polyline points="598.9,277.4 600.0,271.0 593.6,269.9" fill="none" stroke="#BCD0EE" stroke-width="2.5" stroke-linecap="round" stroke-linejoin="round"/>
<line x1="699" y1="199" x2="735" y2="172.51" stroke="url(#ar699_199)" stroke-width="2.5" stroke-linecap="round"/>
<polyline points="734.0,178.9 735.0,172.5 728.6,171.5" fill="none" stroke="#BCD0EE" stroke-width="2.5" stroke-linecap="round" stroke-linejoin="round"/>
<text x="70.5" y="117" font-size="47.5" font-weight="bold" letter-spacing="3.3" fill="url(#ttl)" font-family="'Liberation Sans', 'Noto Sans CJK SC', sans-serif">数据采集</text>
<text x="277" y="95" font-size="19" fill="#9CD8F2" font-weight="normal" textLength="54" lengthAdjust="spacingAndGlyphs" opacity="0.9" stroke="#05275C" stroke-width="0.55">Daraitt</text>
<text x="276" y="118" font-size="18.5" fill="#9CD8F2" font-weight="normal" textLength="203" lengthAdjust="spacingAndGlyphs" opacity="0.9" stroke="#05275C" stroke-width="0.55">Rnnoskdirllcrup&amp;keer</text>
<text x="70" y="161.5" font-size="11.8" fill="#C9DCF2" opacity="0.95" font-weight="normal" font-family="'Liberation Sans', 'Noto Sans CJK SC', sans-serif">系统通过多种渠道采集数据并进行实时处理分析</text>
<text x="70" y="174.3" font-size="9.3" fill="#A9C4E8" font-weight="normal" textLength="348" lengthAdjust="spacingAndGlyphs" opacity="0.72">Catronrcio consikeminsd.     3 mm ou a m m dnalc &amp; m m mo cnot ilarnetro tno</text>
<text x="70" y="188.7" font-size="9.3" fill="#A9C4E8" font-weight="normal" textLength="338" lengthAdjust="spacingAndGlyphs" opacity="0.72">Cnoareqmeni a srcicooiex anm me ior risaor lm rtiondoi ooy re vsoo</text>
<text x="70" y="204.3" font-size="9.3" fill="#A9C4E8" font-weight="normal" textLength="173" lengthAdjust="spacingAndGlyphs" opacity="0.72">cart au ar pce nnenuiao Caocmmct.</text>
<text x="428.5" y="575.3" font-size="11" fill="#C4D2E8" font-weight="normal"  opacity="0.62">A</text>
<text x="435.3" y="575.3" font-size="10.5" fill="#C4D2E8" font-weight="normal" opacity="0.62" textLength="52.5" lengthAdjust="spacingAndGlyphs" font-family="'Liberation Sans', 'Noto Sans CJK SC', sans-serif">数据融合分</text>
<text x="580" y="575.3" font-size="10.5" fill="#C4D2E8" font-weight="normal" opacity="0.62" textLength="60.5" lengthAdjust="spacingAndGlyphs" font-family="'Liberation Sans', 'Noto Sans CJK SC', sans-serif">数据清洗转换</text>
<text x="727" y="575.3" font-size="11" fill="#C4D2E8" font-weight="normal"  opacity="0.62">(</text>
<text x="731.5" y="575.3" font-size="10.5" fill="#C4D2E8" font-weight="normal" opacity="0.62" textLength="63" lengthAdjust="spacingAndGlyphs" font-family="'Liberation Sans', 'Noto Sans CJK SC', sans-serif">数据加载存储</text>
<text x="890" y="575.3" font-size="11" fill="#C4D2E8" font-weight="normal"  opacity="0.62">3</text>
<text x="896.8" y="575.3" font-size="10.5" fill="#C4D2E8" font-weight="normal" opacity="0.62" textLength="43.5" lengthAdjust="spacingAndGlyphs" font-family="'Liberation Sans', 'Noto Sans CJK SC', sans-serif">生成规则</text>
</svg></body></html>
